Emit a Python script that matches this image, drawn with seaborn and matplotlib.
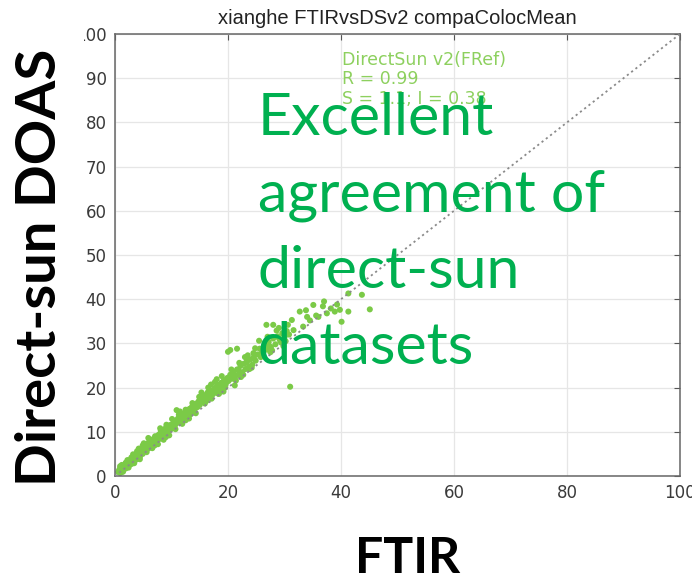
import matplotlib
matplotlib.use("Agg")
import matplotlib.pyplot as plt
from matplotlib.transforms import Bbox
import numpy as np
import pandas as pd
import seaborn as sns

# Colocated NO2 columns: FTIR (x) vs direct-sun DOAS v2 (y), grouped by FTIR range
ftir_0_5 = [0.6, 0.8, 1.0, 1.1, 1.3, 1.5, 1.6, 1.8, 2.0, 2.1, 2.3, 2.5, 2.6, 2.8, 3.0,
            3.1, 3.3, 3.5, 3.6, 3.8, 4.0, 4.1, 4.3, 4.5, 4.6, 4.8, 5.0,
            0.7, 0.9, 1.2, 1.4, 1.7, 1.9, 2.2, 2.4, 2.7, 2.9, 3.2, 3.4, 3.7, 3.9,
            4.2, 4.4, 4.7, 4.9,
            0.9, 1.4, 1.9, 2.4, 2.9, 3.4, 3.9, 4.4, 4.9, 1.2, 2.2, 3.2, 4.2]
ds_0_5 = [0.9, 1.5, 0.8, 1.8, 1.2, 2.3, 1.6, 2.0, 2.9, 2.1, 3.0, 2.6, 3.6, 3.1, 3.9,
          3.2, 4.3, 3.7, 4.6, 4.0, 5.1, 4.4, 5.3, 4.8, 5.8, 5.2, 6.0,
          1.2, 0.7, 1.6, 1.0, 2.4, 1.7, 3.1, 2.2, 3.5, 2.7, 4.1, 3.2, 4.7, 3.8,
          5.4, 4.3, 6.0, 5.0,
          2.2, 1.0, 3.0, 1.9, 4.2, 2.9, 5.6, 3.8, 6.9, 2.5, 3.6, 4.9, 6.2]

ftir_5_10 = [5.2, 5.4, 5.5, 5.7, 5.9, 6.0, 6.2, 6.4, 6.5, 6.7, 6.9, 7.0, 7.2, 7.4, 7.5,
             7.7, 7.9, 8.0, 8.2, 8.4, 8.5, 8.7, 8.9, 9.0, 9.2, 9.4, 9.5, 9.7, 9.9, 10.0,
             5.3, 5.8, 6.3, 6.8, 7.3, 7.8, 8.3, 8.8, 9.3, 9.8,
             5.1, 5.6, 6.1, 6.6, 7.1, 7.6, 8.1, 8.6, 9.1, 9.6, 5.9, 7.0, 8.0, 9.0]
ds_5_10 = [6.7, 5.7, 6.4, 7.3, 6.2, 7.5, 6.6, 7.9, 7.0, 8.3, 7.5, 8.6, 7.7, 8.9, 8.1,
           9.3, 8.4, 9.6, 8.8, 10.1, 9.2, 10.4, 9.5, 10.9, 9.9, 11.0, 10.3, 11.5, 10.6, 11.6,
           5.9, 7.0, 7.4, 7.2, 8.5, 8.6, 9.5, 9.8, 10.6, 10.8,
           7.4, 5.4, 8.2, 6.3, 9.0, 7.2, 10.3, 8.2, 11.6, 9.2, 8.6, 6.9, 10.8, 8.8]

ftir_10_15 = [10.2, 10.4, 10.6, 10.8, 11.0, 11.2, 11.4, 11.6, 11.8, 12.0, 12.2, 12.4,
              12.6, 12.8, 13.0, 13.2, 13.4, 13.6, 13.8, 14.0, 14.2, 14.4, 14.6, 14.8, 15.0,
              10.5, 11.1, 11.7, 12.3, 12.9, 13.5, 14.1, 14.7, 10.9, 12.5,
              10.1, 10.7, 11.3, 11.9, 12.5, 13.1, 13.7, 14.3, 14.9, 11.5, 13.3]
ds_10_15 = [11.0, 12.3, 11.4, 12.6, 12.0, 13.1, 12.2, 13.5, 12.8, 14.0, 13.2, 14.3,
            13.6, 14.8, 14.1, 15.2, 14.4, 15.6, 14.9, 16.0, 15.3, 16.4, 15.6, 16.9, 16.1,
            11.8, 12.7, 13.0, 13.7, 14.2, 15.0, 15.6, 16.2, 14.9, 12.6,
            12.9, 10.6, 13.9, 11.8, 15.0, 13.0, 16.5, 14.2, 17.9, 14.6, 13.9]

ftir_15_20 = [15.2, 15.5, 15.8, 16.0, 16.3, 16.6, 16.9, 17.1, 17.4, 17.7, 18.0, 18.2,
              18.5, 18.8, 19.1, 19.3, 19.6, 19.9, 15.6, 16.4, 17.2, 18.1, 18.9, 19.7,
              17.0, 18.4,
              15.3, 15.9, 16.5, 17.1, 17.7, 18.3, 18.9, 19.5, 16.2, 18.0, 19.2]
ds_15_20 = [16.8, 17.6, 16.9, 18.3, 17.5, 18.7, 18.0, 19.4, 18.6, 19.9, 19.2, 20.6,
            19.6, 21.1, 20.3, 21.7, 20.8, 22.2, 18.2, 18.9, 18.4, 20.5, 20.0, 21.5,
            20.7, 18.6,
            18.9, 16.4, 20.0, 17.5, 21.3, 18.6, 22.6, 20.0, 17.0, 21.9, 19.1]

ftir_20_25 = [20.1, 20.4, 20.7, 21.0, 21.3, 21.6, 21.9, 22.2, 22.5, 22.8, 23.1, 23.4,
              23.7, 24.0, 24.3, 24.6, 24.9, 20.4, 21.6, 22.3, 23.0, 23.8, 24.5, 20.0, 21.2,
              20.6, 21.4, 22.0, 22.7, 23.5, 24.2, 24.8, 21.8, 23.3]
ds_20_25 = [21.5, 22.9, 22.0, 23.6, 22.6, 24.1, 23.0, 24.9, 23.5, 25.4, 24.2, 26.0,
            24.8, 26.4, 25.2, 27.0, 26.1, 28.5, 28.8, 22.4, 26.9, 24.2, 27.8, 28.1, 20.5,
            24.1, 21.6, 25.6, 22.9, 27.3, 24.5, 28.9, 24.0, 25.8]

ftir_25_32 = [25.2, 25.6, 26.0, 26.4, 26.8, 27.2, 27.6, 28.0, 28.4, 28.8, 29.2, 29.6,
              30.0, 30.4, 30.8, 31.3, 26.8, 28.0, 25.8, 27.5, 29.0, 31.0, 30.2, 29.8,
              25.5, 26.2, 27.0, 27.8, 28.6, 29.4, 30.6, 31.6, 27.0, 29.0]
ds_25_32 = [27.5, 28.8, 27.9, 29.4, 28.6, 30.3, 29.2, 31.1, 29.8, 31.6, 30.7, 32.3,
            31.4, 32.8, 32.0, 35.3, 34.2, 34.2, 26.9, 28.0, 33.5, 20.2, 30.5, 29.4,
            30.6, 27.2, 31.5, 28.4, 32.9, 30.2, 34.2, 33.0, 29.8, 31.2]

ftir_high = [32.7, 33.3, 34.0, 35.1, 35.6, 36.0, 36.8, 37.5, 38.2, 38.9, 39.8, 40.1,
             41.3, 41.3, 43.7, 45.1, 34.5, 33.8, 37.0, 39.3]
ds_high = [37.2, 33.8, 36.0, 38.7, 36.3, 36.0, 38.4, 36.8, 37.9, 37.2, 37.6, 34.9,
           41.3, 37.2, 41.0, 37.7, 35.2, 37.5, 39.5, 38.8]

identity = [0, 100]
axis_ticks = [0, 20, 40, 60, 80, 100]
y_ticks = [0, 10, 20, 30, 40, 50, 60, 70, 80, 90, 100]

title_text = "xianghe FTIRvsDSv2 compaColocMean"
stats_lines = ["DirectSun v2(FRef)", "R = 0.99", "S = 1.1; I = 0.38"]
message_lines = ["Excellent", "agreement of", "direct-sun", "datasets"]

groups = [(ftir_0_5, ds_0_5), (ftir_5_10, ds_5_10), (ftir_10_15, ds_10_15),
          (ftir_15_20, ds_15_20), (ftir_20_25, ds_20_25), (ftir_25_32, ds_25_32),
          (ftir_high, ds_high)]
df = pd.concat([pd.DataFrame({"ftir": fx, "ds": dy}) for fx, dy in groups],
               ignore_index=True)

sns.set_theme(style="white")
plt.rcParams["font.family"] = ["DejaVu Sans"]

W, H = 692, 584
fig = plt.figure(figsize=(W / 100, H / 100), dpi=100)
fig.patch.set_facecolor("white")


def fx(px):
    return px / W


def fy(py):
    return 1 - py / H


ax = fig.add_axes([fx(115), fy(476), (680 - 115) / W, (476 - 34) / H])
ax.set_facecolor("white")

ax.plot(identity, identity, linestyle=(0, (1.2, 1.8)), color="#8a8a8a", lw=1.3, zorder=3)
sns.scatterplot(data=df, x="ftir", y="ds", ax=ax, s=19, color="#7bca47",
                edgecolor="none", linewidth=0, zorder=2, legend=False)

ax.set_xlim(0, 100)
ax.set_ylim(0, 100)
ax.set_xticks(axis_ticks)
ax.set_yticks(y_ticks)
ax.grid(True, color="#e6e6e6", lw=0.9)
ax.set_axisbelow(True)
ax.set_xlabel("")
ax.set_ylabel("")
ax.tick_params(direction="in", length=4, width=0.8, color="#555555",
               top=True, right=True, labelsize=12, labelcolor="#3a3a3a", pad=6)
for sp in ax.spines.values():
    sp.set_color("#666666")
    sp.set_linewidth(1.1)

ax.set_title(title_text, fontsize=14.5, color="#222222", pad=7, family="Liberation Sans")

# the exported panel is cropped on its left side
fig.canvas.draw()
crop = Bbox.from_extents(84, 0, W, H)
for lab in ax.get_yticklabels() + ax.get_xticklabels():
    lab.set_clip_box(crop)
    lab.set_clip_on(True)

# statistics annotation
for i, line in enumerate(stats_lines):
    fig.text(fx(342), fy(65 + i * 19.5), line, fontsize=12.5, color="#8dd05e",
             va="baseline", ha="left")

# overlaid slide labels
fig.text(fx(408), fy(573), "FTIR", fontsize=36, fontweight="bold", color="black",
         family="Lato", ha="center", va="baseline")
fig.text(fx(40), fy(267), "Direct-sun DOAS", fontsize=40.5, fontweight="bold",
         color="black", family="Lato", rotation=90, ha="center", va="center")
for i, line in enumerate(message_lines):
    fig.text(fx(258), fy(135 + i * 76.5), line, fontsize=42.5, color="#00b050",
             family="Lato", ha="left", va="baseline", zorder=10)

fig.savefig("out.png", dpi=100, facecolor="white")
